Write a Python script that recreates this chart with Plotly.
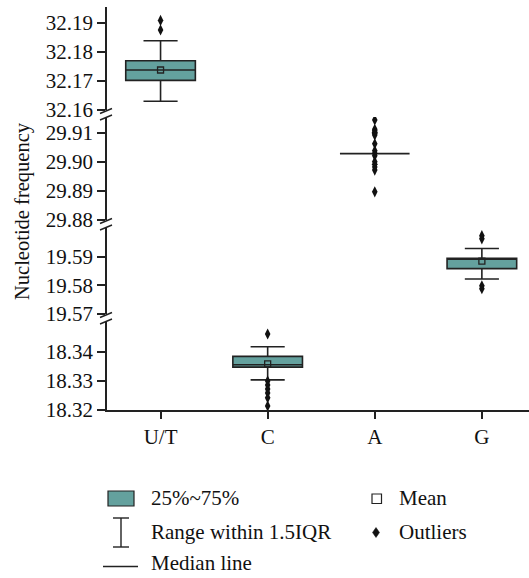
import plotly.graph_objects as go

# ---------------- data ----------------
categories = ["U/T", "C", "A", "G"]
segment_of = {"U/T": 0, "A": 1, "G": 2, "C": 3}  # which axis segment (top->bottom)

q1 = {"U/T": 32.1702, "C": 18.3348, "A": 29.9029, "G": 19.5858}
median = {"U/T": 32.1738, "C": 18.3356, "A": 29.9029, "G": 19.5892}
q3 = {"U/T": 32.1770, "C": 18.3385, "A": 29.9029, "G": 19.5894}
lower_whisker = {"U/T": 32.1630, "C": 18.3304, "A": 29.9029, "G": 19.5822}
upper_whisker = {"U/T": 32.1839, "C": 18.3418, "A": 29.9029, "G": 19.5928}
means = {"U/T": 32.1738, "C": 18.3359, "G": 19.5884}
outliers = {
    "U/T": [32.1909, 32.1876],
    "C": [18.3462, 18.3300, 18.3286, 18.3272, 18.3259, 18.3242, 18.3214],
    "A": [29.9145, 29.9113, 29.9108, 29.9103, 29.9098, 29.9093, 29.9063, 29.9039,
          29.9030, 29.9022, 29.9001, 29.8992, 29.8983, 29.8972, 29.8897],
    "G": [19.5973, 19.5962, 19.5798, 19.5788],
}

seg_ranges = [[32.16, 32.19552], [29.88, 29.91552], [19.57, 19.60031], [18.32, 18.35069]]
seg_ticks = [[32.16, 32.17, 32.18, 32.19], [29.88, 29.89, 29.90, 29.91],
             [19.57, 19.58, 19.59], [18.32, 18.33, 18.34]]

legend_items = ["25%~75%", "Range within 1.5IQR", "Median line", "Mean", "Outliers"]

# ---------------- layout constants ----------------
W, H = 529, 578
ML, MR, MT, MB = 107, 0, 7, 168
PW, PH = W - ML - MR, H - MT - MB
seg_px = [(7, 110), (117, 220), (227, 314), (321, 410)]  # top, bottom pixel rows

FONT = "Liberation Serif, Times New Roman, serif"
BOX_FILL = "#64A19E"
DARK = "#222222"
TXT = "#111111"


def fx(px):
    return (px - ML) / PW


def fy(py):
    return (MT + PH - py) / PH


fig = go.Figure()

for cat in categories:
    s = segment_of[cat]
    xa = "x" if s == 0 else f"x{s+1}"
    ya = "y" if s == 0 else f"y{s+1}"
    fig.add_trace(go.Box(
        x=[cat], q1=[q1[cat]], median=[median[cat]], q3=[q3[cat]],
        lowerfence=[lower_whisker[cat]], upperfence=[upper_whisker[cat]],
        boxpoints=False, fillcolor=BOX_FILL, line=dict(color=DARK, width=1.6),
        width=0.65, whiskerwidth=0.49, xaxis=xa, yaxis=ya, showlegend=False,
        hoverinfo="skip",
    ))
    if cat in means:
        fig.add_trace(go.Scatter(
            x=[cat], y=[means[cat]], mode="markers", xaxis=xa, yaxis=ya,
            marker=dict(symbol="square-open", size=6, color=DARK, line=dict(width=1.3)),
            showlegend=False, hoverinfo="skip",
        ))
    fig.add_trace(go.Scatter(
        x=[cat] * len(outliers[cat]), y=outliers[cat], mode="markers", xaxis=xa, yaxis=ya,
        marker=dict(symbol="diamond-tall", size=8, color=TXT),
        showlegend=False, hoverinfo="skip",
    ))

layout = dict(
    width=W, height=H, margin=dict(l=ML, r=MR, t=MT, b=MB),
    paper_bgcolor="white", plot_bgcolor="white",
    font=dict(family=FONT, size=21, color=TXT),
    showlegend=False,
)

for s in range(4):
    top, bot = seg_px[s]
    xk = "xaxis" if s == 0 else f"xaxis{s+1}"
    yk = "yaxis" if s == 0 else f"yaxis{s+1}"
    ya = "y" if s == 0 else f"y{s+1}"
    xa = "x" if s == 0 else f"x{s+1}"
    bottom = s == 3
    layout[xk] = dict(
        domain=[0, 1], anchor=ya, range=[-0.5, 3.44],
        type="category", categoryorder="array", categoryarray=categories,
        showgrid=False, zeroline=False,
        showline=bottom, linecolor=DARK, linewidth=1.6,
        ticks="outside" if bottom else "", ticklen=7, tickwidth=1.6, tickcolor=DARK,
        showticklabels=bottom, tickfont=dict(family=FONT, size=21, color=TXT),
        matches=None if s == 0 else "x",
    )
    layout[yk] = dict(
        domain=[fy(bot), fy(top)], anchor=xa, range=seg_ranges[s],
        tickvals=seg_ticks[s], tickformat=".2f",
        showgrid=False, zeroline=False,
        showline=True, linecolor=DARK, linewidth=1.6,
        ticks="outside", ticklen=8, tickwidth=1.6, tickcolor=DARK,
        tickfont=dict(family=FONT, size=21, color=TXT),
    )

fig.update_layout(**layout)

shapes = []
# axis break marks
for y_b in [110, 220, 314]:
    for yy in (y_b + 1, y_b + 7.5):
        shapes.append(dict(type="line", xref="paper", yref="paper",
                           x0=fx(100), y0=fy(yy + 2.5), x1=fx(112), y1=fy(yy - 2.5),
                           line=dict(color=DARK, width=1.4)))
# legend glyphs
shapes.append(dict(type="rect", xref="paper", yref="paper",
                   x0=fx(108), x1=fx(134), y0=fy(506), y1=fy(491),
                   fillcolor=BOX_FILL, line=dict(color=DARK, width=1.2)))
shapes.append(dict(type="line", xref="paper", yref="paper",
                   x0=fx(121), x1=fx(121), y0=fy(518), y1=fy(547), line=dict(color=DARK, width=1.4)))
for yy in (518, 547):
    shapes.append(dict(type="line", xref="paper", yref="paper",
                       x0=fx(113), x1=fx(129), y0=fy(yy), y1=fy(yy), line=dict(color=DARK, width=1.4)))
shapes.append(dict(type="line", xref="paper", yref="paper",
                   x0=fx(103), x1=fx(138), y0=fy(566.5), y1=fy(566.5), line=dict(color=DARK, width=1.4)))
shapes.append(dict(type="rect", xref="paper", yref="paper",
                   x0=fx(372), x1=fx(381.5), y0=fy(503.5), y1=fy(494),
                   fillcolor="white", line=dict(color=DARK, width=1.2)))
dcx, dcy = 376, 532.5
path = (f"M {fx(dcx)},{fy(dcy-5)} L {fx(dcx+3.5)},{fy(dcy)} "
        f"L {fx(dcx)},{fy(dcy+5)} L {fx(dcx-3.5)},{fy(dcy)} Z")
shapes.append(dict(type="path", xref="paper", yref="paper", path=path,
                   fillcolor=TXT, line=dict(color=TXT, width=0.5)))

annotations = [
    dict(text="Nucleotide frequency", textangle=-90, xref="paper", yref="paper",
         x=fx(22), y=fy(211), showarrow=False, xanchor="center", yanchor="middle",
         font=dict(family=FONT, size=20.5, color=TXT)),
]
legend_pos = [(149, 498), (149, 532), (149, 563), (397, 498), (397, 532)]
for txt, (lx, ly) in zip(legend_items, legend_pos):
    annotations.append(dict(text=txt, xref="paper", yref="paper", x=fx(lx), y=fy(ly),
                            showarrow=False, xanchor="left", yanchor="middle",
                            font=dict(family=FONT, size=21, color=TXT)))

fig.update_layout(shapes=shapes, annotations=annotations)
fig.write_html("out.html", config={"displayModeBar": False},
               post_script="document.body.style.margin='0';document.body.style.overflow='hidden';")
